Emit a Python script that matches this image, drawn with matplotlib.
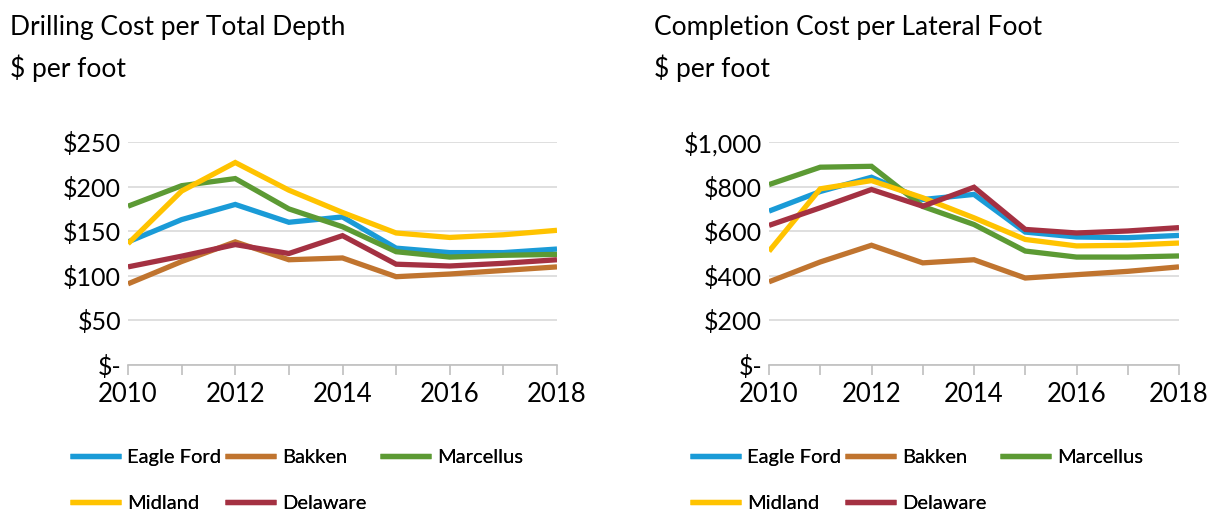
import numpy as np
import matplotlib
matplotlib.use("Agg")
import matplotlib.pyplot as plt
from matplotlib.ticker import FuncFormatter

plt.rcParams['font.family'] = ['Lato', 'DejaVu Sans']

# years on the x axis
years = [2010, 2011, 2012, 2013, 2014, 2015, 2016, 2017, 2018]
basins = ["Eagle Ford", "Bakken", "Marcellus", "Midland", "Delaware"]
colors = ["#1a9bd7", "#c0742f", "#5c9a34", "#ffc300", "#a43142"]

# drilling cost, $ per foot of total depth
drill_eagle = [138, 163, 180, 160, 166, 131, 126, 126, 130]
drill_bakken = [91, 116, 138, 118, 120, 99, 102, 106, 110]
drill_marcellus = [178, 201, 209, 175, 155, 127, 121, 123, 124]
drill_midland = [136, 195, 227, 196, 171, 148, 143, 146, 151]
drill_delaware = [110, 122, 135, 125, 145, 113, 111, 114, 118]

# completion cost, $ per lateral foot
comp_eagle = [690, 778, 842, 742, 765, 596, 574, 571, 581]
comp_bakken = [373, 462, 537, 458, 472, 390, 405, 420, 440]
comp_marcellus = [809, 887, 891, 711, 630, 511, 484, 484, 489]
comp_midland = [510, 790, 827, 750, 660, 563, 534, 537, 547]
comp_delaware = [626, 705, 787, 712, 797, 608, 592, 601, 616]

drill = [drill_eagle, drill_bakken, drill_marcellus, drill_midland, drill_delaware]
comp = [comp_eagle, comp_bakken, comp_marcellus, comp_midland, comp_delaware]

W, H = 1211, 512


def money(v, pos):
    if v == 0:
        return "$-"
    return "${:,.0f}".format(v)


fig = plt.figure(figsize=(W / 100, H / 100), dpi=100)

# (axes left px, axes right px, data, ymax, step, title, title x px, legend x px)
panels = [
    (128, 557, drill, 250, 50, "Drilling Cost per Total Depth", 10, 70),
    (769, 1179, comp, 1000, 200, "Completion Cost per Lateral Foot", 654, 690),
]

for x0, x1, series, ymax, step, title, tx, lx in panels:
    ax = fig.add_axes([x0 / W, 1 - 365 / H, (x1 - x0) / W, (365 - 142) / H])
    handles = []
    for vals, name, c in zip(series, basins, colors):
        h, = ax.plot(years, vals, color=c, lw=3.8, label=name,
                     solid_capstyle='butt', solid_joinstyle='miter')
        handles.append(h)
    ax.set_xlim(2010, 2018)
    ax.set_ylim(0, ymax)
    ax.set_yticks(np.arange(0, ymax + 1, step))
    ax.yaxis.set_major_formatter(FuncFormatter(money))
    ax.set_xticks(years)
    ax.set_xticklabels([str(y) if y % 2 == 0 else "" for y in years])
    ax.grid(axis='y', color='#d9d9d9', lw=1.2)
    ax.set_axisbelow(True)
    for s in ['top', 'right', 'left']:
        ax.spines[s].set_visible(False)
    ax.spines['bottom'].set_color('#bfbfbf')
    ax.spines['bottom'].set_linewidth(1.2)
    ax.tick_params(axis='y', length=0, labelsize=18, pad=5, colors='black')
    ax.tick_params(axis='x', direction='out', length=7, color='#bfbfbf',
                   width=1.2, labelsize=18.5, pad=5)

    fig.text(tx / W, 1 - 27 / H, title, fontsize=19, va='center', ha='left')
    fig.text(tx / W, 1 - 68 / H, "$ per foot", fontsize=19, va='center', ha='left')

    # legend laid out row by row in fixed-width slots, like the source
    for i, h in enumerate(handles):
        row, col = divmod(i, 3)
        leg = fig.legend(handles=[h], loc='center left',
                         bbox_to_anchor=((lx + col * 155) / W, 1 - (457 + row * 46) / H),
                         frameon=False, fontsize=14.5, handlelength=2.55,
                         handletextpad=0.3, borderpad=0, borderaxespad=0)
        fig.add_artist(leg)

fig.savefig("out.png", dpi=100)
